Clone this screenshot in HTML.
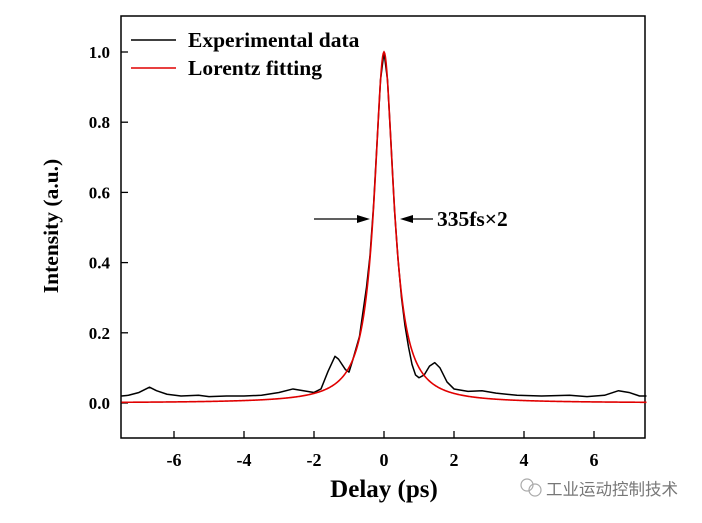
<!DOCTYPE html>
<html><head><meta charset="utf-8"><style>
body{margin:0;background:#fff;}
svg text{font-family:"Liberation Serif","Noto Serif CJK SC",serif;font-weight:bold;}
</style></head><body>
<svg id="chart" width="702" height="518" xmlns="http://www.w3.org/2000/svg">
<rect x="121" y="16" width="524" height="422" fill="none" stroke="#000" stroke-width="1.5"/>
<g id="ticks"></g>
<g id="series"></g>
<g>
<line x1="131" y1="40" x2="176" y2="40" stroke="#000" stroke-width="1.6"/>
<text x="188" y="47" font-size="21.5">Experimental data</text>
<line x1="131" y1="68" x2="176" y2="68" stroke="#e00000" stroke-width="1.6"/>
<text x="188" y="75" font-size="21.5">Lorentz fitting</text>
</g>
<g>
<line x1="314" y1="219" x2="366" y2="219" stroke="#000" stroke-width="1.3"/>
<polygon points="370,219 357,215 357,223" fill="#000"/>
<line x1="404" y1="219" x2="433" y2="219" stroke="#000" stroke-width="1.3"/>
<polygon points="400,219 413,215 413,223" fill="#000"/>
<text x="437" y="226" font-size="21.5">335fs×2</text>
</g>
<text x="384" y="497" font-size="25" text-anchor="middle">Delay (ps)</text>
<text transform="translate(58,226) rotate(-90)" font-size="21.5" text-anchor="middle">Intensity (a.u.)</text>
<g>
<circle cx="527" cy="485" r="6" fill="none" stroke="#aaa" stroke-width="1.2"/>
<circle cx="535" cy="490" r="6" fill="none" stroke="#aaa" stroke-width="1.2"/>
<text x="546" y="495" font-size="16.5" fill="#777" style="font-weight:normal;font-family:'Noto Sans CJK SC',sans-serif">工业运动控制技术</text>
</g>
</svg>
<script>
const xTicks=[-6,-4,-2,0,2,4,6];
const yTicks=[0.0,0.2,0.4,0.6,0.8,1.0];
const yTickLabels=["0.0","0.2","0.4","0.6","0.8","1.0"];
const expX=[-7.5,-7.3,-7.0,-6.7,-6.5,-6.2,-5.8,-5.3,-5.0,-4.5,-4.0,-3.5,-3.0,-2.6,-2.3,-2.0,-1.8,-1.6,-1.4,-1.3,-1.1,-1.0,-0.9,-0.7,-0.6,-0.5,-0.4,-0.3,-0.2,-0.1,0,0.1,0.2,0.3,0.4,0.5,0.6,0.7,0.8,0.9,1.0,1.15,1.3,1.45,1.6,1.8,2.0,2.4,2.8,3.2,3.8,4.5,5.3,5.8,6.3,6.7,7.0,7.3,7.5];
const expY=[0.02,0.022,0.03,0.045,0.035,0.025,0.02,0.022,0.018,0.02,0.02,0.022,0.03,0.04,0.035,0.03,0.04,0.09,0.133,0.125,0.095,0.088,0.12,0.19,0.26,0.33,0.42,0.56,0.74,0.92,1.0,0.92,0.74,0.55,0.41,0.3,0.22,0.16,0.11,0.08,0.072,0.08,0.105,0.115,0.1,0.06,0.04,0.033,0.035,0.028,0.022,0.02,0.022,0.018,0.022,0.035,0.03,0.02,0.02];
const fitParams=[1.0,0.0,0.335]; // amplitude, center, half-width (ps)
const X=v=>384+v*35.0, Y=v=>403-v*351;
const NS="http://www.w3.org/2000/svg";
const tg=document.getElementById('ticks'), sg=document.getElementById('series');
xTicks.forEach(t=>{
 const l=document.createElementNS(NS,'line');
 l.setAttribute('x1',X(t));l.setAttribute('x2',X(t));l.setAttribute('y1',438);l.setAttribute('y2',431);l.setAttribute('stroke','#000');l.setAttribute('stroke-width','1.3');
 
 
 tg.appendChild(l);
 const tx=document.createElementNS(NS,'text');
 tx.setAttribute('x',X(t));tx.setAttribute('y',466);tx.setAttribute('font-size','18');tx.setAttribute('text-anchor','middle');
 tx.textContent=t;
 
 
 tg.appendChild(tx);
});
yTicks.forEach((t,i)=>{
 const l=document.createElementNS(NS,'line');
 l.setAttribute('x1',121);l.setAttribute('x2',128);l.setAttribute('y1',Y(t));l.setAttribute('y2',Y(t));l.setAttribute('stroke','#000');l.setAttribute('stroke-width','1.3');
 
 
 tg.appendChild(l);
 const tx=document.createElementNS(NS,'text');
 tx.setAttribute('x',110);tx.setAttribute('y',Y(t)+6);tx.setAttribute('font-size','17');tx.setAttribute('text-anchor','end');
 tx.textContent=yTickLabels[i];
 
 
 tg.appendChild(tx);
});
let d='';
for(let x=-7.5;x<=7.5001;x+=0.02){const y=fitParams[0]/(1+Math.pow((x-fitParams[1])/fitParams[2],2));d+=(d?'L':'M')+X(x).toFixed(2)+','+Y(y).toFixed(2);}
const fit=document.createElementNS(NS,'path');
fit.setAttribute('d',d);fit.setAttribute('fill','none');fit.setAttribute('stroke','#e00000');fit.setAttribute('stroke-width','1.6');


let d2='';
expX.forEach((x,i)=>{d2+=(i?'L':'M')+X(x).toFixed(2)+','+Y(expY[i]).toFixed(2);});
const ex=document.createElementNS(NS,'path');
ex.setAttribute('d',d2);ex.setAttribute('fill','none');ex.setAttribute('stroke','#000');ex.setAttribute('stroke-width','1.5');ex.setAttribute('stroke-linejoin','round');


sg.appendChild(ex);sg.appendChild(fit);
</script>
</body></html>
